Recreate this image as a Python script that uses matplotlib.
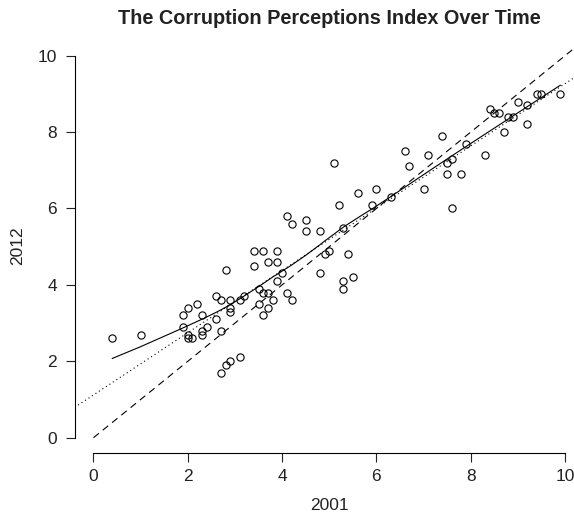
import numpy as np
import matplotlib
matplotlib.use('Agg')
import matplotlib.pyplot as plt

plt.rcParams['font.family'] = ['Liberation Sans', 'DejaVu Sans']
plt.rcParams['lines.scale_dashes'] = False

cpi_2001 = [0.4, 1.0, 1.9, 1.9, 2.0, 2.0, 2.0, 2.1, 2.2, 2.3, 2.3, 2.3, 2.4, 2.6, 2.6,
            2.7, 2.7, 2.7, 2.8, 2.8, 2.9, 2.9, 2.9, 2.9, 3.1, 3.1, 3.2, 3.4, 3.4, 3.5,
            3.5, 3.6, 3.6, 3.6, 3.7, 3.7, 3.7, 3.8, 3.9, 3.9, 3.9, 4.0, 4.1, 4.1, 4.2,
            4.2, 4.5, 4.5, 4.8, 4.8, 4.9, 5.0, 5.1, 5.2, 5.3, 5.3, 5.3, 5.4, 5.5, 5.6,
            5.9, 6.0, 6.3, 6.6, 6.7, 7.0, 7.1, 7.4, 7.5, 7.5, 7.6, 7.6, 7.8, 7.9, 8.3,
            8.4, 8.5, 8.6, 8.7, 8.8, 8.9, 9.0, 9.2, 9.2, 9.4, 9.5, 9.9]
cpi_2012 = [2.6, 2.7, 3.2, 2.9, 3.4, 2.7, 2.6, 2.6, 3.5, 3.2, 2.8, 2.7, 2.9, 3.7, 3.1,
            3.6, 2.8, 1.7, 4.4, 1.9, 3.6, 3.4, 3.3, 2.0, 3.6, 2.1, 3.7, 4.9, 4.5, 3.9,
            3.5, 4.9, 3.8, 3.2, 4.6, 3.8, 3.4, 3.6, 4.9, 4.6, 4.1, 4.3, 5.8, 3.8, 5.6,
            3.6, 5.7, 5.4, 5.4, 4.3, 4.8, 4.9, 7.2, 6.1, 5.5, 4.1, 3.9, 4.8, 4.2, 6.4,
            6.1, 6.5, 6.3, 7.5, 7.1, 6.5, 7.4, 7.9, 7.2, 6.9, 7.3, 6.0, 6.9, 7.7, 7.4,
            8.6, 8.5, 8.5, 8.0, 8.4, 8.4, 8.8, 8.7, 8.2, 9.0, 9.0, 9.0]

x = np.array(cpi_2001)
y = np.array(cpi_2012)


def lowess(x, y, f=2/3, iters=3):
    idx = np.argsort(x, kind='stable')
    x = x[idx]
    y = y[idx]
    n = len(x)
    ns = max(min(int(f * n + 1e-7), n), 2)
    rw = np.ones(n)
    fit = np.zeros(n)
    for it in range(iters + 1):
        for i in range(n):
            d = np.abs(x - x[i])
            h = np.sort(d)[ns - 1]
            w = np.zeros(n)
            if h > 0:
                u = d / h
                w = np.where(u < 0.999, (1 - u ** 3) ** 3, 0.0)
                w[u <= 0.001] = 1.0
            else:
                w[d == 0] = 1.0
            w = w * rw
            sw = w.sum()
            xm = (w * x).sum() / sw
            ym = (w * y).sum() / sw
            sxx = (w * (x - xm) ** 2).sum()
            if sxx > 1e-12 * (x.max() - x.min()) ** 2:
                b = (w * (x - xm) * (y - ym)).sum() / sxx
            else:
                b = 0.0
            fit[i] = ym + b * (x[i] - xm)
        res = y - fit
        cmad = 6 * np.median(np.abs(res))
        if cmad == 0:
            break
        r = np.abs(res) / cmad
        rw = np.where(r < 1, (1 - r ** 2) ** 2, 0.0)
    return x, fit


fig = plt.figure(figsize=(5.74, 5.17), dpi=100)
ax = fig.add_axes([74.6 / 574, 64 / 517, 509.3 / 574, 412.6 / 517])

ax.plot(x, y, 'o', mfc='none', mec='black', ms=5.2, mew=0.8, zorder=3)

# lowess smooth
lx, ly = lowess(x, y)
ax.plot(lx, ly, color='black', lw=0.8)

# least squares line
b1, b0 = np.polyfit(x, y, 1)
xx = np.array([-0.4, 10.4])
ax.plot(xx, b0 + b1 * xx, color='black', lw=0.8, dashes=(0.8, 2.2))

# y = x
ax.plot([0, 10.4], [0, 10.4], color='black', lw=0.8, dashes=(5, 3.6))

ax.set_xlim(-0.4, 10.4)
ax.set_ylim(-0.4, 10.4)
ax.set_xticks([0, 2, 4, 6, 8, 10])
ax.set_yticks([0, 2, 4, 6, 8, 10])
for s in ['top', 'right']:
    ax.spines[s].set_visible(False)
ax.spines['left'].set_bounds(0, 10)
ax.spines['bottom'].set_bounds(0, 10)
ax.spines['left'].set_linewidth(0.8)
ax.spines['bottom'].set_linewidth(0.8)
ax.tick_params(direction='out', length=6.5, width=0.8, labelsize=12.5, colors='#222222')
ax.tick_params(axis='x', pad=5)
ax.tick_params(axis='y', pad=6)

ax.set_xlabel('2001', fontsize=12.5, color='#222222')
ax.xaxis.set_label_coords(329 / 574, 1 - 498 / 517, transform=fig.transFigure)
ax.set_ylabel('2012', fontsize=12.5, color='#222222')
ax.yaxis.set_label_coords(25 / 574, 1 - 246 / 517, transform=fig.transFigure)

fig.text(329 / 574, 1 - 18 / 517, 'The Corruption Perceptions Index Over Time',
         ha='center', va='center', fontsize=14.3, fontweight='bold', color='#222222')

fig.savefig('out.png', dpi=100)
